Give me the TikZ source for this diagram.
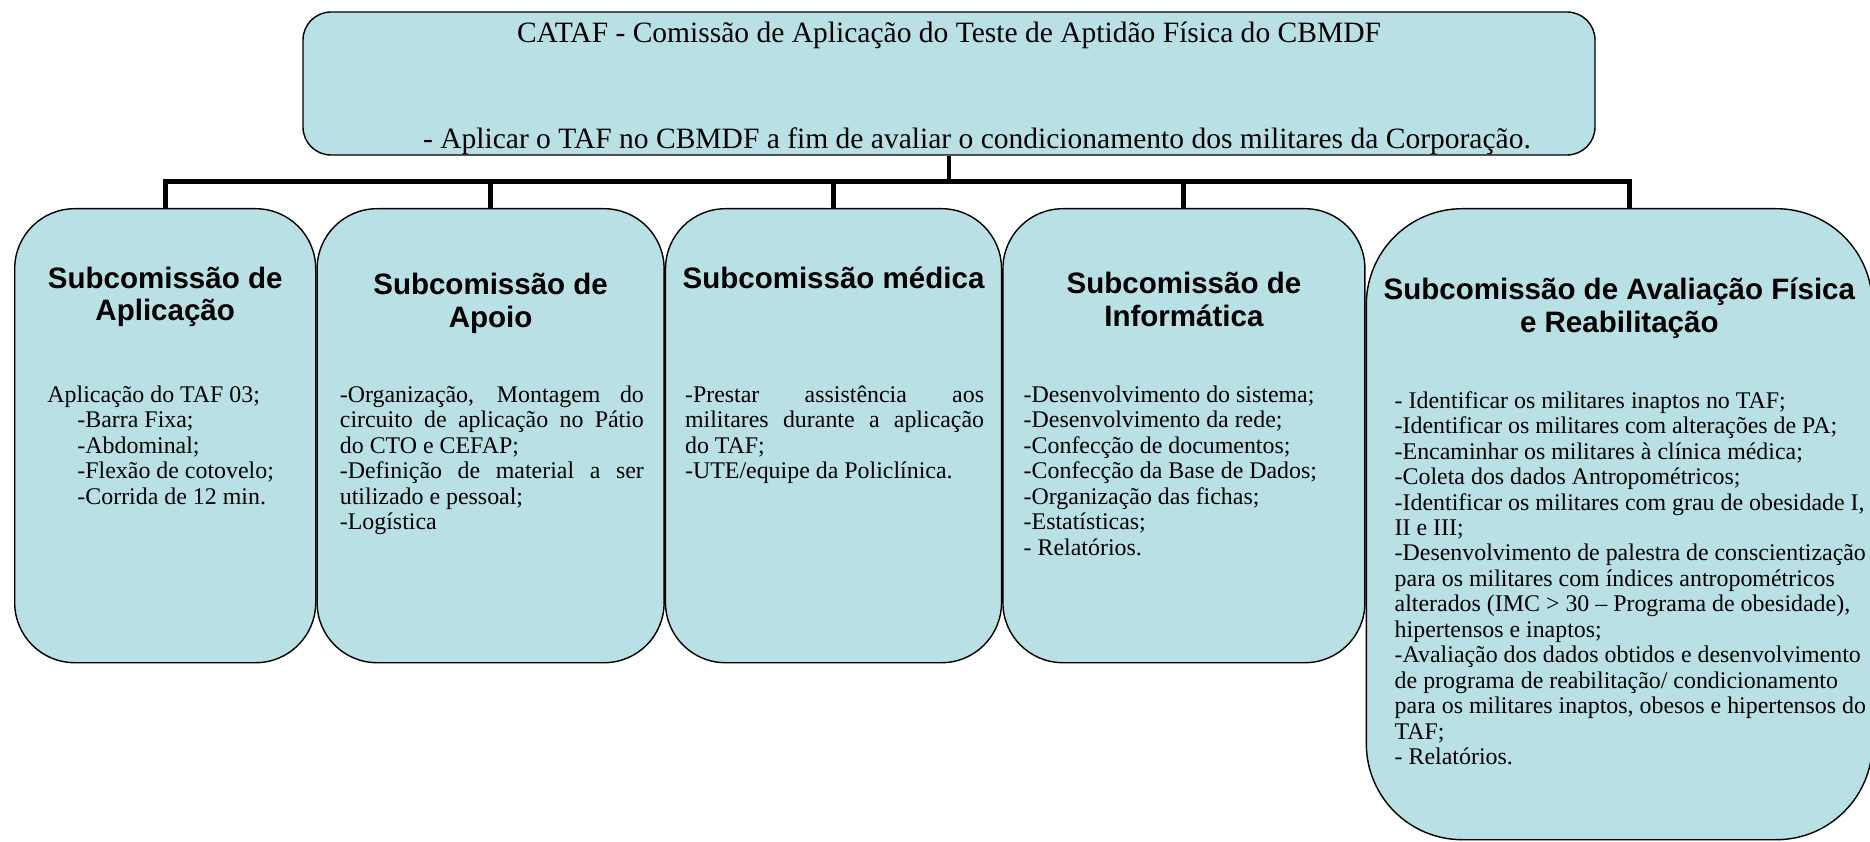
\documentclass[tikz,border=0pt]{standalone}
\usepackage{fontspec}
\setmainfont{Liberation Serif}
\setsansfont{Liberation Sans}
\usepackage{tikz}
\usetikzlibrary{positioning}
\definecolor{boxfill}{RGB}{185,224,228}
\hyphenpenalty=10000
\exhyphenpenalty=10000
\tikzstyle{comissao} = [rectangle, draw, fill=boxfill, rounded corners=0.7cm,
line width=1pt, minimum width=32.3cm, minimum height=3.575cm]
\tikzstyle{block} = [rectangle, draw, fill=boxfill, rounded corners=1.5cm,
line width=1pt, minimum height=11.35cm, inner sep=0pt]
\tikzstyle{title} = [font=\fontsize{21}{25}\selectfont, align=center, inner sep=0pt]
\tikzstyle{head} = [font=\sffamily\bfseries\fontsize{21}{23}\selectfont,
align=center, inner sep=0pt]
\tikzstyle{body} = [font=\fontsize{17}{18.1}\selectfont, align=left,
inner sep=0pt, anchor=north west]
\tikzstyle{line} = [draw, line width=3.5pt]

\begin{document}
\begin{tikzpicture}[node distance = 0pt, auto]
\useasboundingbox (0,0) rectangle (46.75,-21.05);
% Place nodes
\node [comissao] (cataf) at (23.725,-2.0875) {};
\node [title] (catafh) at (23.725,-2.215) {CATAF - Comissão de Aplicação do Teste de Aptidão Física do CBMDF\\[1.77cm]\hspace*{1.4cm}- Aplicar o TAF no CBMDF a fim de avaliar o condicionamento dos militares da Corporação.};
\node [block, minimum width=7.525cm, anchor=north west] (aplic) at (0.35,-5.2) {};
\node [block, minimum width=8.675cm, right=of aplic] (apoio) {};
\node [block, minimum width=8.4cm, right=of apoio] (medica) {};
\node [block, minimum width=9.05cm, right=of medica] (info) {};
\node [block, minimum width=12.65cm, minimum height=15.775cm, rounded corners=2.4cm,
right=of info.north east, anchor=north west] (avalia) {};
% Headings
\node [head, below=1.46cm of aplic.north] (aplich) {Subcomissão de\\Aplicação};
\node [head, below=1.63cm of apoio.north] (apoioh) {Subcomissão de\\Apoio};
\node [head, below=1.46cm of medica.north] (medicah) {Subcomissão médica};
\node [head, below=1.6cm of info.north] (infoh) {Subcomissão de\\Informática};
\node [head, below=1.75cm of avalia.north] (avaliah) {Subcomissão de Avaliação Física\\e Reabilitação};
% Texts
\node [body, below right=4.44cm and 0.83cm of aplic.north west] (aplicb) {Aplicação do TAF 03;\\
\hspace*{0.75cm}-Barra Fixa;\\
\hspace*{0.75cm}-Abdominal;\\
\hspace*{0.75cm}-Flexão de cotovelo;\\
\hspace*{0.75cm}-Corrida de 12 min.};
\node [body, text width=7.6cm, align=justify, below right=4.44cm and 0.58cm of apoio.north west] (apoiob) {-Organização, Montagem do\linebreak
circuito de aplicação no Pátio\linebreak
do CTO e CEFAP;\\
-Definição de material a ser\linebreak
utilizado e pessoal;\\
-Logística};
\node [body, text width=7.475cm, align=justify, below right=4.44cm and 0.5cm of medica.north west] (medicab) {-Prestar assistência aos\linebreak
militares durante a aplicação\linebreak
do TAF;\\
-UTE/equipe da Policlínica.};
\node [body, below right=4.44cm and 0.53cm of info.north west] (infob) {-Desenvolvimento do sistema;\\
-Desenvolvimento da rede;\\
-Confecção de documentos;\\
-Confecção da Base de Dados;\\
-Organização das fichas;\\
-Estatísticas;\\
- Relatórios.};
\node [body, below right=4.58cm and 0.72cm of avalia.north west] (avaliab) {- Identificar os militares inaptos no TAF;\\
-Identificar os militares com alterações de PA;\\
-Encaminhar os militares à clínica médica;\\
-Coleta dos dados Antropométricos;\\
-Identificar os militares com grau de obesidade I,\\
II e III;\\
-Desenvolvimento de palestra de conscientização\\
para os militares com índices antropométricos\\
alterados (IMC > 30 – Programa de obesidade),\\
hipertensos e inaptos;\\
-Avaliação dos dados obtidos e desenvolvimento\\
de programa de reabilitação/ condicionamento\\
para os militares inaptos, obesos e hipertensos do\\
TAF;\\
- Relatórios.};
% Draw edges
\coordinate [below=0.65cm of cataf.south] (hub);
\coordinate [right=6.6cm of avalia.north west] (avaliatop);
\path [line] (cataf.south) -- (hub);
\path [line] (hub) -| (aplic.north);
\path [line] (hub) -| (apoio.north);
\path [line] (hub) -| (medica.north);
\path [line] (hub) -| (info.north);
\path [line] (hub) -| (avaliatop);
\end{tikzpicture}
\end{document}
